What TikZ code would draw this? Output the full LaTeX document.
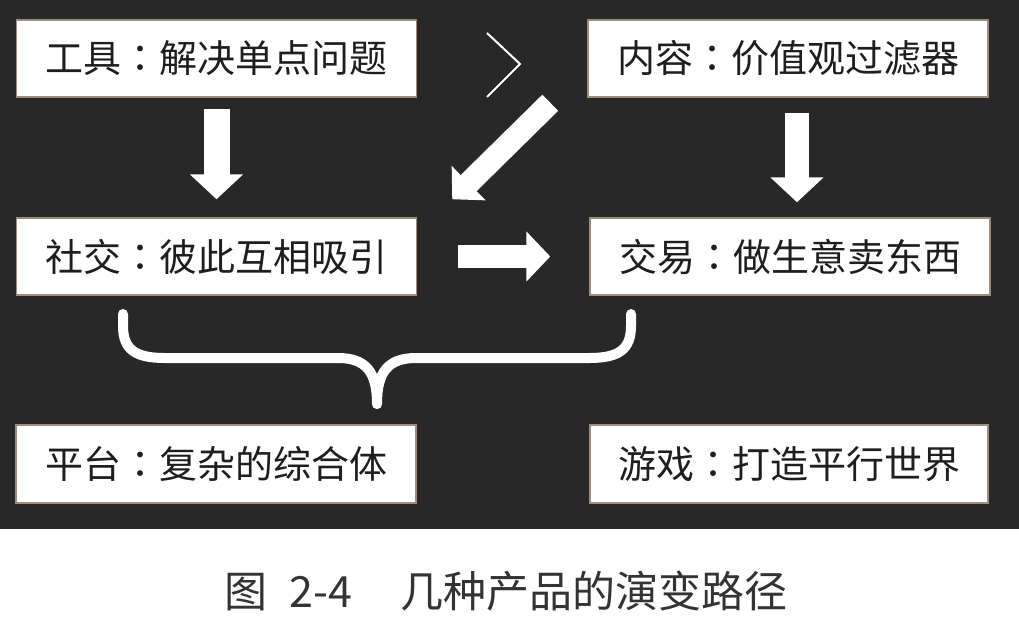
\documentclass[tikz,border=0pt]{standalone}
\usepackage{fontspec}
\setmainfont{Noto Sans CJK SC}
\newfontfamily\tcfont{Noto Sans CJK TC}
\newcommand{\ccolon}{{\tcfont ：}}
\usetikzlibrary{arrows.meta}
\definecolor{board}{HTML}{282828}
\definecolor{boxedge}{HTML}{9C8C7A}
\definecolor{boxtext}{HTML}{1E1E1E}
\definecolor{captext}{HTML}{333333}
\tikzset{
  card/.style={draw=boxedge, line width=1.5pt, fill=white, inner sep=0pt,
    minimum width=400pt, minimum height=77pt, text=boxtext,
    font=\fontsize{38}{44}\selectfont},
  blockarrow/.style={draw=white, line width=#1},
  vtip/.style={-{Triangle[length=25pt,width=52pt]}},
}
\begin{document}
\begin{tikzpicture}[x=1pt,y=-1pt]
\useasboundingbox (0,0) rectangle (1019,619);
\fill[board] (0,0) rectangle (1019,529);
\fill[white] (0,529) rectangle (1019,619);

\node[card] (b1) at (216.5,58.5) {工具\ccolon 解决单点问题};
\node[card] (b2) at (788,58.5) {内容\ccolon 价值观过滤器};
\node[card] (b3) at (216.5,256.5) {社交\ccolon 彼此互相吸引};
\node[card] (b4) at (790,256.5) {交易\ccolon 做生意卖东西};
\node[card, minimum height=78pt] (b5) at (216,464) {平台\ccolon 复杂的综合体};
\node[card, minimum height=78pt, minimum width=398pt] (b6) at (789,464) {游戏\ccolon 打造平行世界};

% down arrows
\draw[blockarrow=26pt, vtip] ([yshift=-11pt]b1.south) -- ([yshift=18pt]b3.north);
\draw[blockarrow=24pt, vtip] ([xshift=9pt,yshift=-15pt]b2.south) -- ([xshift=7pt,yshift=15pt]b4.north);
% right arrow
\draw[blockarrow=23pt, -{Triangle[length=24pt,width=49pt]}] ([xshift=41pt]b3.east) -- ([xshift=-39pt]b4.west);
% diagonal arrow
\draw[blockarrow=22.6pt, -{Triangle[length=23pt,width=47pt]}] ([xshift=-37pt,yshift=-5pt]b2.south west) -- ([xshift=35pt,yshift=18pt]b3.north east);

% chevron
\coordinate (c1) at (487,33);
\coordinate (c2) at (520,64);
\coordinate (c3) at (487,97);
\draw[white, line width=2pt] (c1) -- (c2) -- (c3);

% brace
\draw[white, line width=10pt, line cap=round]
  (123,314) -- (123,326) .. controls (123,350) and (136,358) .. (165,358)
  -- (338,358) .. controls (366,358) and (377,372) .. (377,404);
\draw[white, line width=10pt, line cap=round]
  (631,314) -- (631,326) .. controls (631,350) and (618,358) .. (589,358)
  -- (416,358) .. controls (388,358) and (377,372) .. (377,404);

% caption
\node[text=captext, font=\fontsize{43}{50}\selectfont, inner sep=0pt] (cap) at (506,591)
  {图\hspace{22pt}2-4\hspace{48pt}几种产品的演变路径};
\end{tikzpicture}
\end{document}
